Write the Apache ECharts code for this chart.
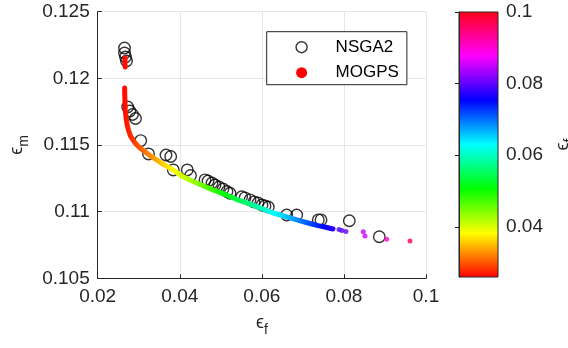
<!DOCTYPE html>
<html><head><meta charset="utf-8">
<script src="https://cdn.jsdelivr.net/npm/echarts@6/dist/echarts.min.js"></script>
<style>html,body{margin:0;padding:0;background:#fff}#c{width:568px;height:348px}</style>
</head><body><div id="c"></div>
<script>
// ---- data ----
const xTicks = [0.02, 0.04, 0.06, 0.08, 0.1];
const yTicks = [0.105, 0.11, 0.115, 0.12, 0.125];
const cbTicks = [0.04, 0.06, 0.08, 0.1];
const cbRange = [0.026, 0.1];

const nsga2X = [0.02653,0.02653,0.02677,0.02702,0.02731,0.02782,0.02848,0.02921,0.03048,0.03238,0.03664,0.03779,0.03842,0.04183,0.04261,
  0.04615,0.04688,0.04785,0.04858,0.04956,0.05053,0.0515,0.05224,
  0.05509,0.05589,0.05711,0.05809,0.05906,0.06003,0.06076,0.06157,
  0.06605,0.06849,0.07375,0.07441,0.08131,0.08862];
const nsga2Y = [0.12228,0.1219,0.1216,0.1213,0.11785,0.11755,0.11729,0.11699,0.11533,0.11433,0.11425,0.11414,0.11313,0.11313,0.11271,
  0.11238,0.1123,0.11215,0.112,0.11185,0.1117,0.11151,0.11138,
  0.11112,0.11103,0.11088,0.11073,0.11065,0.1105,0.11043,0.11035,
  0.10975,0.10975,0.10938,0.10938,0.10932,0.10812];

const mogpsTopX = [0.0267,0.02665,0.02665,0.0267];
const mogpsTopY = [0.12153,0.1213,0.12108,0.12085];

const mogpsCurveX = [0.02658,0.0266,0.02665,0.02673,0.0269,0.02714,0.0275,0.02799,0.0286,0.02933,0.03031,0.03128,0.03226,0.03323,0.03438,
  0.03567,0.03689,0.03835,0.04047,0.04249,0.04493,0.04809,0.05102,0.05394,0.05638,0.05954,0.06271,0.06563,0.06856,0.07124,0.07368,0.07587,0.07733];
const mogpsCurveY = [0.11928,0.11875,0.11823,0.11763,0.1171,0.11658,0.11613,0.11568,0.11538,0.11508,0.11478,0.11455,0.11433,0.1141,0.11388,
  0.11361,0.11339,0.11313,0.11268,0.11238,0.11204,0.11163,0.11129,0.11091,0.11065,0.11028,0.1099,0.10964,0.10938,0.10915,0.10895,0.10881,0.1087];

const mogpsDotsX = [0.0788,0.07953,0.0805,0.08472,0.08514,0.09042,0.0961];
const mogpsDotsY = [0.10866,0.10859,0.10851,0.1085,0.10818,0.10793,0.1078];

// ---- build ----
const zip = (a, b) => a.map((v, i) => [v, b[i]]);
const FONT = '"Liberation Sans", Arial, Helvetica, sans-serif';
const TXT = '#262626';
const hsv = ['#ff0000','#ffff00','#00ff00','#00ffff','#0000ff','#ff00ff','#ff0018'];

const chart = echarts.init(document.getElementById('c'), null, {renderer: 'canvas'});
const nameRich = {
  e: {fontSize: 18, fontFamily: FONT, color: TXT, padding: [0, 0, 7, 0], verticalAlign: 'middle'},
  s: {fontSize: 14, fontFamily: FONT, color: TXT, padding: [7, 0, 0, 0], verticalAlign: 'middle'}
};
const cbGradient = new echarts.graphic.LinearGradient(0, 1, 0, 0,
  hsv.map((c, i) => ({offset: i / (hsv.length - 1), color: c})));
chart.setOption({
  animation: false,
  backgroundColor: '#fff',
  textStyle: {fontFamily: FONT},
  grid: [
    {left: 97.7, top: 11.7, width: 328.3, height: 266.6, containLabel: false, outerBoundsMode: 'none'},
    {left: 459, top: 12, width: 39, height: 265, show: true, borderColor: TXT, borderWidth: 1,
     backgroundColor: cbGradient, containLabel: false, outerBoundsMode: 'none'}
  ],
  xAxis: [
    {type: 'value', gridIndex: 0, min: xTicks[0], max: xTicks[xTicks.length - 1], interval: 0.02,
     axisLine: {show: true, onZero: false, lineStyle: {color: TXT, width: 1}},
     axisTick: {show: true, inside: true, length: 4, lineStyle: {color: TXT}},
     axisLabel: {color: TXT, fontSize: 19, fontFamily: FONT, margin: 9, customValues: xTicks},
     splitLine: {show: true, lineStyle: {color: '#e6e6e6', width: 1}},
     name: '{e|ϵ}{s|f}', nameLocation: 'middle', nameGap: 36, nameTextStyle: {rich: nameRich}},
    {type: 'value', gridIndex: 1, min: 0, max: 1, show: false}
  ],
  yAxis: [
    {type: 'value', gridIndex: 0, min: yTicks[0], max: yTicks[yTicks.length - 1], interval: 0.005,
     axisLine: {show: true, onZero: false, lineStyle: {color: TXT, width: 1}},
     axisTick: {show: true, inside: true, length: 4, lineStyle: {color: TXT}},
     axisLabel: {color: TXT, fontSize: 19, fontFamily: FONT, margin: 8, customValues: yTicks},
     splitLine: {show: true, lineStyle: {color: '#e6e6e6', width: 1}},
     name: '{e|ϵ}{s|m}', nameLocation: 'middle', nameRotate: 90, nameGap: 64, nameTextStyle: {rich: nameRich}},
    {type: 'value', gridIndex: 1, min: cbRange[0], max: cbRange[1], position: 'right',
     axisLine: {show: true, lineStyle: {color: TXT, width: 1}},
     axisTick: {show: true, inside: true, length: 4, lineStyle: {color: TXT}, customValues: cbTicks},
     axisLabel: {color: TXT, fontSize: 19, fontFamily: FONT, margin: 8, customValues: cbTicks},
     splitLine: {show: false},
     name: '{e|ϵ}{s|f}', nameLocation: 'middle', nameRotate: 90, nameGap: 56, nameTextStyle: {rich: nameRich}}
  ],
  visualMap: {
    type: 'continuous', show: false, min: cbRange[0], max: cbRange[1], dimension: 0, seriesIndex: [1, 2, 3],
    inRange: {color: hsv}
  },
  legend: {
    orient: 'vertical', left: 266.7, top: 31.7,
    padding: [5.5, 8, 2, 28.7], itemGap: 5.5, itemWidth: 58, itemHeight: 11,
    backgroundColor: '#fff', borderColor: TXT, borderWidth: 1, borderRadius: 0,
    textStyle: {fontSize: 17, color: '#000', fontFamily: FONT, lineHeight: 20},
    data: [
      {name: 'NSGA2', icon: 'circle', itemStyle: {color: 'rgba(0,0,0,0)', borderColor: '#000', borderWidth: 1.4}},
      {name: 'MOGPS', icon: 'circle', itemStyle: {color: '#ff0000', borderWidth: 0}}
    ]
  },
  series: [
    {name: 'NSGA2', type: 'scatter', xAxisIndex: 0, yAxisIndex: 0, data: zip(nsga2X, nsga2Y),
     symbol: 'circle', symbolSize: 11.5, z: 2,
     itemStyle: {color: 'rgba(0,0,0,0)', borderColor: '#000', borderWidth: 1.4}},
    {name: 'MOGPS', type: 'line', xAxisIndex: 0, yAxisIndex: 0, data: zip(mogpsCurveX, mogpsCurveY),
     showSymbol: false, smooth: false, z: 3, lineStyle: {width: 5, cap: 'round', join: 'round'}},
    {name: 'MOGPS', type: 'line', xAxisIndex: 0, yAxisIndex: 0, data: zip(mogpsTopX, mogpsTopY),
     showSymbol: false, z: 3, lineStyle: {width: 5, cap: 'round', join: 'round'}},
    {name: 'MOGPS', type: 'scatter', xAxisIndex: 0, yAxisIndex: 0, data: zip(mogpsDotsX, mogpsDotsY),
     symbol: 'circle', symbolSize: 5, z: 3}
  ]
});
</script></body></html>
